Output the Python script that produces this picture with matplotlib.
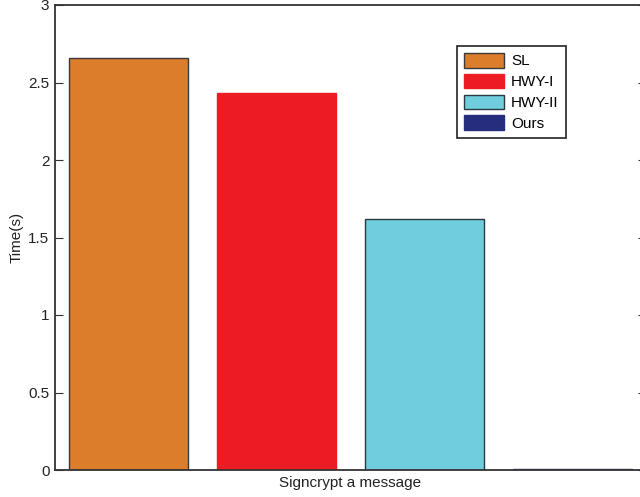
import matplotlib
matplotlib.use("Agg")
import matplotlib.pyplot as plt

plt.rcParams['font.family'] = ['Liberation Sans', 'DejaVu Sans']

schemes = ["SL", "HWY-I", "HWY-II", "Ours"]
times = [2.66, 2.435, 1.62, 0.004]
colors = ["#DC7D2B", "#EC1C24", "#6FCDDD", "#262C7E"]
edges = ["#3a3a3a", "#EC1C24", "#2a3a40", "#262C7E"]
category = "Signcrypt a message"
yticks = [0, 0.5, 1, 1.5, 2, 2.5, 3]
ytick_labels = ["0", "0.5", "1", "1.5", "2", "2.5", "3"]

W, H = 640, 497
fig = plt.figure(figsize=(W / 100, H / 100), dpi=100)
left, right, top, bottom = 55, 646, 5, 470
ax = fig.add_axes([left / W, 1 - bottom / H, (right - left) / W, (bottom - top) / H])

positions = list(range(len(schemes)))
for x, t, c, e, name in zip(positions, times, colors, edges, schemes):
    ax.bar(x, t, width=0.805, color=c, edgecolor=e, linewidth=1.0, label=name)

ax.set_xlim(-0.5, 3.5)
ax.set_ylim(0, 3)
ax.set_yticks(yticks)
ax.set_yticklabels(ytick_labels)
ax.set_xticks([1.5])
ax.set_xticklabels([category])
ax.tick_params(axis='x', length=0, labelsize=11, pad=4, colors='#222222')
ax.tick_params(axis='y', direction='in', length=6, labelsize=11, right=True,
               color='#333333', labelcolor='#222222', pad=4)
for s in ax.spines.values():
    s.set_color('#333333')
    s.set_linewidth(1.3)
ax.set_ylabel("Time(s)", fontsize=11, color='#222222', labelpad=3.5)

leg = ax.legend(loc='upper left', bbox_to_anchor=(457 / W, 1 - 46 / H),
                bbox_transform=fig.transFigure, borderaxespad=0,
                fontsize=11, handlelength=2.6, handleheight=1.1,
                labelspacing=0.35, handletextpad=0.5, borderpad=0.45,
                fancybox=False, framealpha=1, edgecolor='#222222')
leg.get_frame().set_linewidth(1.2)

fig.savefig("out.png", dpi=100)
